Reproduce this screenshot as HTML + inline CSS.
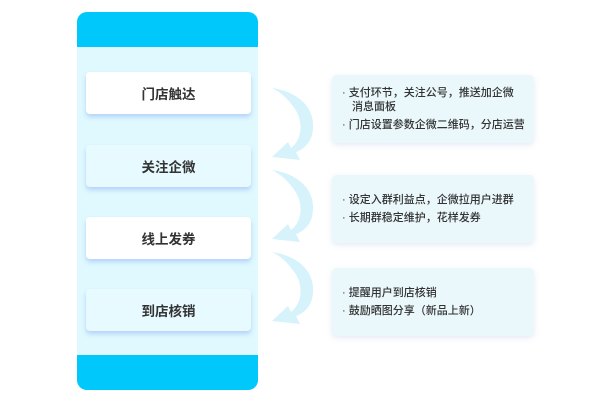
<!DOCTYPE html>
<html><head><meta charset="utf-8"><style>
body{margin:0;width:600px;height:400px;background:#fff;position:relative;font-family:"Liberation Sans","Noto Sans CJK SC",sans-serif;overflow:hidden}
.panel{position:absolute;left:77px;top:12px;width:181px;height:378px;background:#e0f9ff;border-radius:10px;overflow:hidden}
.bar{position:absolute;left:0;width:100%;height:35px;background:#00c8fa}
.card{position:absolute;left:9px;width:165px;height:42px;border-radius:4px;box-shadow:0 3px 5px rgba(100,140,240,.35);display:flex;align-items:center;justify-content:center;font-size:13.5px;color:#333;font-weight:bold}
.box{position:absolute;left:332px;width:202px;height:68px;background:#eaf7fb;border-radius:5px;box-shadow:0 2px 6px rgba(150,170,220,.25);font-size:11px;color:#333;line-height:14px;box-sizing:border-box;padding:0 6px 0 10px;display:flex;flex-direction:column;justify-content:center;font-weight:500}
.box div{padding-left:10px;text-indent:-10px;margin:2px 0}
</style></head><body>
<div class="panel">
<div class="bar" style="top:0"></div>
<div class="bar" style="bottom:0"></div>
<div class="card" style="top:60px;background:#fff">门店触达</div>
<div class="card" style="top:133px;background:#e6faff">关注企微</div>
<div class="card" style="top:205px;background:#fff">线上发券</div>
<div class="card" style="top:277px;background:#e6faff">到店核销</div>
</div>
<svg width="600" height="400" style="position:absolute;left:0;top:0">
<g fill="#d6f3fb">
<path d="M272,88 C300,92 318,110 312,135 C309,145 302,150 296,152 L300,160 L272,157 L288,142 L291,148 C302,140 305,120 292,105 C287,98 280,92 272,88Z"/>
<path d="M272,170 C300,174 318,192 312,217 C309,227 302,232 296,234 L300,242 L272,239 L288,224 L291,230 C302,222 305,202 292,187 C287,180 280,174 272,170Z"/>
<path d="M272,252 C300,256 318,274 312,299 C309,309 302,314 296,316 L300,324 L272,321 L288,306 L291,312 C302,304 305,284 292,269 C287,262 280,256 272,252Z"/>
</g></svg>
<div class="box" style="top:75px"><div>· 支付环节，关注公号，推送加企微<br>消息面板</div><div>· 门店设置参数企微二维码，分店运营</div></div>
<div class="box" style="top:175px"><div>· 设定入群利益点，企微拉用户进群</div><div>· 长期群稳定维护，花样发券</div></div>
<div class="box" style="top:268px"><div>· 提醒用户到店核销</div><div>· 鼓励晒图分享（新品上新）</div></div>
</body></html>
